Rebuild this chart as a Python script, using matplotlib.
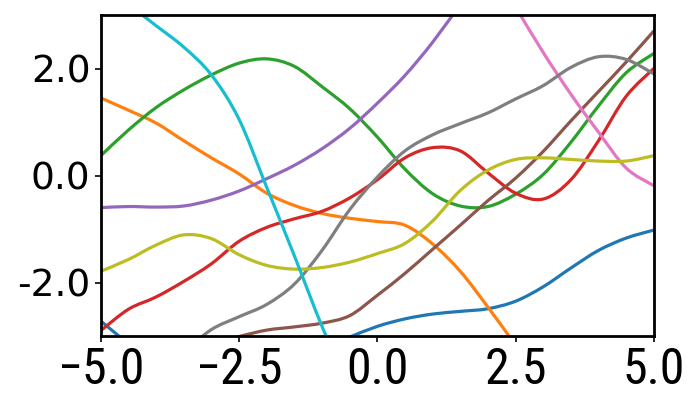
import numpy as np
import matplotlib
matplotlib.use("Agg")
import matplotlib.pyplot as plt
from matplotlib.ticker import FormatStrFormatter, FixedLocator
from matplotlib.path import Path
from matplotlib.patches import PathPatch
from matplotlib import font_manager as fm

nan = np.nan
x = [-5.0, -4.5, -4.0, -3.5, -3.0, -2.5, -2.0, -1.5, -1.0, -0.5, 0.0,
     0.5, 1.0, 1.5, 2.0, 2.5, 3.0, 3.5, 4.0, 4.5, 5.0]

blue   = [-2.72, -3.15, nan, nan, nan, nan, nan, nan, nan, -3.02, -2.82,
          -2.68, -2.59, -2.54, -2.49, -2.35, -2.08, -1.73, -1.40, -1.17, -1.02]
orange = [1.45, 1.22, 0.98, 0.65, 0.33, 0.03, -0.33, -0.56, -0.71, -0.80, -0.86,
          -0.93, -1.28, -1.79, -2.46, -3.17, -3.90, nan, nan, nan, nan]
green  = [0.37, 0.85, 1.27, 1.60, 1.88, 2.10, 2.18, 2.04, 1.66, 1.25, 0.72,
          0.12, -0.34, -0.57, -0.58, -0.35, 0.02, 0.62, 1.30, 1.92, 2.28]
red    = [-2.90, -2.50, -2.27, -1.98, -1.65, -1.23, -0.97, -0.81, -0.67, -0.42, -0.08,
          0.33, 0.52, 0.46, 0.05, -0.33, -0.44, -0.08, 0.65, 1.48, 2.00]
purple = [-0.60, -0.58, -0.59, -0.57, -0.46, -0.29, -0.06, 0.19, 0.50, 0.88, 1.35,
          1.87, 2.49, 3.20, nan, nan, nan, nan, nan, nan, nan]
brown  = [nan, nan, nan, nan, -3.15, -3.01, -2.89, -2.83, -2.76, -2.62, -2.24,
          -1.83, -1.38, -0.93, -0.47, -0.05, 0.45, 1.02, 1.57, 2.12, 2.70]
pink   = [nan, nan, nan, nan, nan, nan, nan, nan, nan, nan, nan,
          nan, nan, nan, nan, 3.15, 2.30, 1.52, 0.81, 0.14, -0.19]
gray   = [nan, nan, nan, -3.30, -2.88, -2.64, -2.41, -2.03, -1.40, -0.64, -0.03,
          0.46, 0.76, 0.97, 1.17, 1.43, 1.68, 2.02, 2.22, 2.17, 1.90]
olive  = [-1.79, -1.57, -1.30, -1.11, -1.18, -1.48, -1.68, -1.75, -1.72, -1.62, -1.46,
          -1.27, -0.85, -0.28, 0.10, 0.30, 0.33, 0.30, 0.27, 0.27, 0.37]
cyan   = [nan, 3.20, 2.80, 2.40, 1.88, 1.05, -0.22, -1.50, -2.82, -4.00, nan,
          nan, nan, nan, nan, nan, nan, nan, nan, nan, nan]

series = [blue, orange, green, red, purple, brown, pink, gray, olive, cyan]
colors = ["tab:blue", "tab:orange", "tab:green", "tab:red", "tab:purple",
          "tab:brown", "tab:pink", "tab:gray", "tab:olive", "tab:cyan"]

xticks = [-5.0, -2.5, 0.0, 2.5, 5.0]
yticks = [-2.0, 0.0, 2.0]


def smooth_path(xs, ys):
    """Smooth (Catmull-Rom as cubic Bezier) path through the data points."""
    xs = np.asarray(xs, float)
    ys = np.asarray(ys, float)
    verts, codes = [], []
    ok = ~np.isnan(ys)
    i = 0
    n = len(xs)
    while i < n:
        if not ok[i]:
            i += 1
            continue
        j = i
        while j + 1 < n and ok[j + 1]:
            j += 1
        px, py = xs[i:j + 1], ys[i:j + 1]
        m = len(px)
        if m >= 2:
            verts.append((px[0], py[0]))
            codes.append(Path.MOVETO)
            for k in range(m - 1):
                k0 = max(k - 1, 0)
                k3 = min(k + 2, m - 1)
                t1 = ((px[k + 1] - px[k0]) / 6.0, (py[k + 1] - py[k0]) / 6.0)
                t2 = ((px[k3] - px[k]) / 6.0, (py[k3] - py[k]) / 6.0)
                verts += [(px[k] + t1[0], py[k] + t1[1]),
                          (px[k + 1] - t2[0], py[k + 1] - t2[1]),
                          (px[k + 1], py[k + 1])]
                codes += [Path.CURVE4, Path.CURVE4, Path.CURVE4]
        i = j + 1
    return Path(verts, codes)


names = {f.name for f in fm.fontManager.ttflist}
narrow_font = None
for cand in ["Liberation Sans Narrow", "Roboto Condensed", "Open Sans Condensed",
             "DejaVu Sans Condensed", "Noto Sans Condensed"]:
    if cand in names:
        narrow_font = cand
        break
if narrow_font is None:
    for f in fm.fontManager.ttflist:
        if ("Narrow" in f.name or "Condensed" in f.name) and "Mono" not in f.name:
            narrow_font = f.name
            break
dejavu_cond = any(f.name == "DejaVu Sans" and f.stretch in ("condensed", 400)
                  for f in fm.fontManager.ttflist)

fig = plt.figure(figsize=(7, 4), dpi=100)
ax = fig.add_axes([0.144, 0.16, 0.790, 0.8025])
for s, c in zip(series, colors):
    ax.add_patch(PathPatch(smooth_path(x, s), facecolor="none", edgecolor=c,
                           lw=2.3, capstyle="round", joinstyle="round"))

ax.set_xlim(-5, 5)
ax.set_ylim(-3, 3)
ax.xaxis.set_major_locator(FixedLocator(xticks))
ax.yaxis.set_major_locator(FixedLocator(yticks))
ax.yaxis.set_major_formatter(FormatStrFormatter("%.1f"))
for sp in ax.spines.values():
    sp.set_linewidth(2.0)
ax.tick_params(axis="both", width=1.2, length=4)
for lab in ax.get_yticklabels():
    lab.set_fontsize(27)
    lab.set_family(["DejaVu Sans"])
for lab in ax.get_xticklabels():
    if narrow_font is not None:
        lab.set_family([narrow_font, "DejaVu Sans"])
        lab.set_fontsize(36)
    elif dejavu_cond:
        lab.set_family(["DejaVu Sans"])
        lab.set_stretch("condensed")
        lab.set_fontsize(32)
    else:
        lab.set_family(["DejaVu Sans"])
        lab.set_fontsize(27)

fig.savefig("out.png", dpi=100)
